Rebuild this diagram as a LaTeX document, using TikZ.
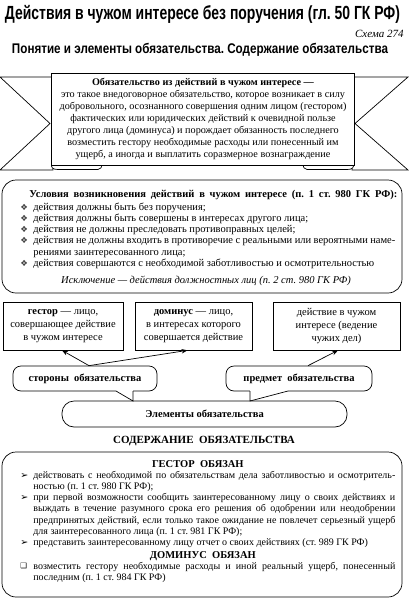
\documentclass[tikz,border=0pt]{standalone}
\usepackage{fontspec}
\usepackage{graphicx}
\setmainfont{Liberation Serif}
\newfontfamily\hdrfont{Liberation Sans}
\newfontfamily\symfont{DejaVu Sans}
\usetikzlibrary{arrows.meta}
\newcommand\bitem[2]{\par\noindent\hangindent=13pt\hangafter=1\makebox[13pt][l]{#1}#2\par}
\newcommand\diabul{\raisebox{0pt}{\symfont\fontsize{8.5}{8.5}\selectfont\color{black!75}❖}}
\newcommand\arrbul{{\symfont\fontsize{9.5}{9.5}\selectfont ➢}}
\newcommand\sqbul{\raisebox{0.5pt}{\symfont\fontsize{7.5}{7.5}\selectfont ❑}}
\tikzset{
  frame/.style={draw, line width=0.7pt, inner sep=0pt},
  plain/.style={inner sep=0pt},
  arr/.style={line width=0.7pt, -{Stealth[length=6pt,width=4.5pt]}},
  tailln/.style={line width=0.7pt},
}
\frenchspacing
\begin{document}
\begin{tikzpicture}[x=1pt,y=-1pt,line width=0.7pt]
\useasboundingbox (0,0) rectangle (408,600);

% headings
\node[plain] (title) at (202.5,14) {\resizebox{395pt}{\height}{\hdrfont\bfseries\fontsize{19}{19}\selectfont Действия в чужом интересе без поручения (гл.~50 ГК РФ)}};
\node[plain, anchor=base east] (schema) at (404,37) {\fontsize{11}{11}\selectfont\itshape Схема 274};
\node[plain] (sub) at (200,50) {\resizebox{376pt}{\height}{\hdrfont\bfseries\fontsize{14}{14}\selectfont Понятие и элементы обязательства. Содержание обязательства}};

% ribbon tails
\draw (0,77) -- (53,77) -- (53,170) -- (0,170) -- (50,123.5) -- cycle;
\draw (408,77) -- (352,77) -- (352,170) -- (408,170) -- (355,123.5) -- cycle;
% folds
\draw[fill=white] (52,162) .. controls (50,168) and (53,169.5) .. (58,169.5) -- (98,169.5) .. controls (101,169.5) and (102,167) .. (102,163);
\draw[fill=white] (353,162) .. controls (355,168) and (352,169.5) .. (347,169.5) -- (307,169.5) .. controls (304,169.5) and (303,167) .. (303,163);
% panel
\node[frame, fill=white, minimum width=303pt, minimum height=92pt] (panel) at (202.5,119) {};
\node[plain, align=center, font=\fontsize{10.2}{12}\selectfont] (deftext) at (203,118.5) {\textbf{Обязательство из действий в чужом интересе —}\\
это такое внедоговорное обязательство, которое возникает в силу\\
добровольного, осознанного совершения одним лицом (гестором)\\
фактических или юридических действий к очевидной пользе\\
другого лица (доминуса) и порождает обязанность последнего\\
возместить гестору необходимые расходы или понесенный им\\
ущерб, а иногда и выплатить соразмерное вознаграждение};

% conditions
\node[frame, rounded corners=14pt, minimum width=400pt, minimum height=113pt] (cond) at (202,236.5) {};
\node[plain, anchor=base west] (condhead) at (29,197) {\fontsize{10.5}{11.5}\selectfont\bfseries\makebox[368pt][s]{Условия возникновения действий в чужом интересе (п.~1 ст.~980 ГК РФ):}};
\node[plain, anchor=base west] (condlist) at (20,210) {\begin{minipage}[t]{375pt}\fontsize{10.5}{11.3}\selectfont
\bitem{\diabul}{действия должны быть без поручения;}
\bitem{\diabul}{действия должны быть совершены в интересах другого лица;}
\bitem{\diabul}{действия не должны преследовать противоправных целей;}
\bitem{\diabul}{действия не должны входить в противоречие с реальными или вероятными наме-\linebreak рениями заинтересованного лица;}
\bitem{\diabul}{действия совершаются с необходимой заботливостью и осмотрительностью}
\end{minipage}};
\node[plain, anchor=base] (exc) at (206,283) {\fontsize{10.5}{11}\selectfont\itshape Исключение — действия должностных лиц (п.~2 ст.~980 ГК РФ)};

% three boxes
\node[frame, minimum width=120pt, minimum height=48pt, align=center, font=\fontsize{10.5}{13}\selectfont] (gestor) at (63,326) {\textbf{гестор} — лицо,\\совершающее действие\\в чужом интересе};
\node[frame, minimum width=117pt, minimum height=48pt, align=center, font=\fontsize{10.5}{13}\selectfont] (dominus) at (193.5,326) {\textbf{доминус} — лицо,\\в интересах которого\\совершается действие};
\node[frame, minimum width=127pt, minimum height=48pt, align=center, font=\fontsize{10.5}{13}\selectfont] (action) at (336.5,326) {действие в чужом\\интересе (ведение\\чужих дел)};

% elements box
\node[frame, rounded corners=12pt, minimum width=285pt, minimum height=26pt, font=\fontsize{10.5}{12}\selectfont\bfseries] (elem) at (204.5,414) {Элементы обязательства};

% callouts
\node[frame, rounded corners=8pt, minimum width=144pt, minimum height=25pt, font=\fontsize{10.5}{12}\selectfont\bfseries] (sides) at (85,378.5) {стороны\ \ обязательства};
\coordinate (sidestip) at (133,401);
\fill[white] (116,390) rectangle (133,392);
\draw[tailln] (116,391) -- (sidestip) -- (133,391);

\node[frame, rounded corners=8pt, minimum width=146pt, minimum height=25pt, font=\fontsize{10.5}{12}\selectfont\bfseries] (subj) at (299,378.5) {предмет\ \ обязательства};
\coordinate (subjtip) at (250,401);
\fill[white] (250,390) rectangle (288,392);
\draw[tailln] (288,391) -- (subjtip) -- (250,391);

% arrows
\draw[arr] ([xshift=4pt]sides.north) -- ([xshift=-1pt]gestor.south);
\draw[arr] ([xshift=4pt]sides.north) -- ([xshift=-6pt]dominus.south);
\draw[arr] ([xshift=9pt]subj.north) -- ([xshift=1.5pt]action.south);

% content
\node[plain] (conthead) at (204,441) {\fontsize{11}{11}\selectfont\bfseries СОДЕРЖАНИЕ\ \ ОБЯЗАТЕЛЬСТВА};
\node[frame, rounded corners=14pt, minimum width=400pt, minimum height=145pt] (cont) at (202,524.5) {};
\node[plain, anchor=base west] (contlist) at (20,467.5) {\begin{minipage}[t]{375pt}\fontsize{10}{11.1}\selectfont
\noindent\makebox[375pt]{\hspace{-20pt}\fontsize{10.5}{11.1}\selectfont\bfseries ГЕСТОР\ \ ОБЯЗАН}\par
\bitem{\arrbul}{действовать с необходимой по обязательствам дела заботливостью и осмотритель-\linebreak ностью (п.~1 ст.~980 ГК РФ);}
\bitem{\arrbul}{при первой возможности сообщить заинтересованному лицу о своих действиях и\linebreak выждать в течение разумного срока его решения об одобрении или неодобрении\linebreak предпринятых действий, если только такое ожидание не повлечет серьезный ущерб\linebreak для заинтересованного лица (п.~1 ст.~981 ГК РФ);}
\bitem{\arrbul}{представить заинтересованному лицу отчет о своих действиях (ст.~989 ГК РФ)}
\vspace{2pt}
\noindent\makebox[375pt]{\hspace{-10pt}\fontsize{10.5}{11.1}\selectfont\bfseries ДОМИНУС\ \ ОБЯЗАН}\par
\bitem{\sqbul}{возместить гестору необходимые расходы и иной реальный ущерб, понесенный\linebreak последним (п.~1 ст.~984 ГК РФ)}
\end{minipage}};
\end{tikzpicture}
\end{document}
